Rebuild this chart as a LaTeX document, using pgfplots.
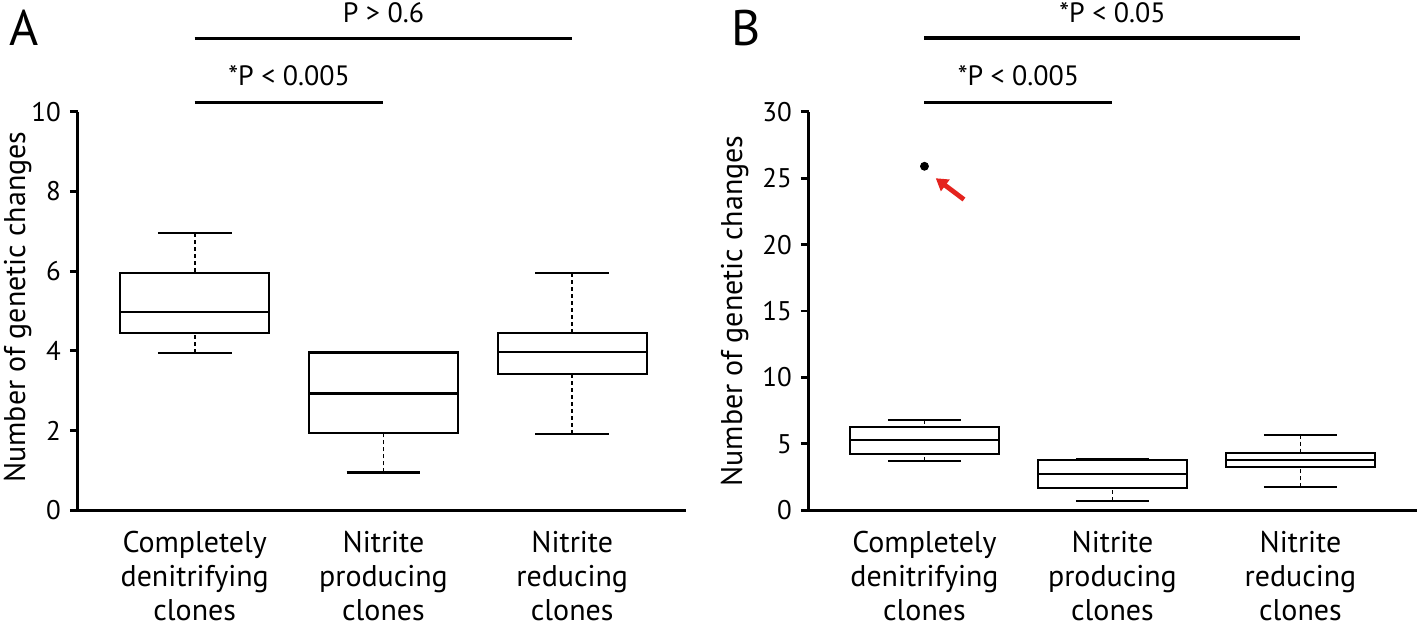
\documentclass[border=0pt]{standalone}
\usepackage{pgfplots}
\pgfplotsset{compat=1.18}
\usepgfplotslibrary{statistics}
\usetikzlibrary{arrows.meta}
\usepackage{fontspec}
\setmainfont{PT Sans}
\definecolor{arrowred}{RGB}{228,35,30}

\pgfplotsset{
  mybox/.style={
    black, line width=1.1pt, solid, fill=none,
    boxplot/draw direction=y,
    boxplot/box extend=0.79,
    boxplot/whisker extend=0.39,
    boxplot/draw/lower whisker/.code={%
      \draw[line width=0.8pt, dash pattern=on 2pt off 1.5pt]
        (boxplot cs:\pgfplotsboxplotvalue{lower whisker}) -- (boxplot cs:\pgfplotsboxplotvalue{lower quartile});
      \draw[line width=1.1pt]
        (boxplot whisker cs:\pgfplotsboxplotvalue{lower whisker},0) -- (boxplot whisker cs:\pgfplotsboxplotvalue{lower whisker},1);
    },
    boxplot/draw/upper whisker/.code={%
      \draw[line width=0.8pt, dash pattern=on 2pt off 1.5pt]
        (boxplot cs:\pgfplotsboxplotvalue{upper whisker}) -- (boxplot cs:\pgfplotsboxplotvalue{upper quartile});
      \draw[line width=1.1pt]
        (boxplot whisker cs:\pgfplotsboxplotvalue{upper whisker},0) -- (boxplot whisker cs:\pgfplotsboxplotvalue{upper whisker},1);
    },
  },
  panel/.style={
    scale only axis, width=304.5pt, height=199.5pt,
    anchor=south west,
    axis x line=bottom, axis y line=left,
    axis line style={line width=1.6pt, -},
    clip=false,
    xtick={0,1,2},
    xticklabels={{Completely\\denitrifying\\clones},{Nitrite\\producing\\clones},{Nitrite\\reducing\\clones}},
    xticklabel style={align=center, font=\fontsize{15}{17}\selectfont, inner sep=0pt, yshift=-6.5pt},
    x tick style={draw=none},
    tick align=outside,
    major tick length=4pt,
    y tick style={line width=1.4pt, black},
    /pgf/number format/assume math mode=true,
    yticklabel style={font=\fontsize{13.5}{16}\selectfont, xshift=-1pt},
    ylabel={Number of genetic changes},
    ylabel style={font=\fontsize{15}{18}\selectfont, anchor=center},
  },
}

\begin{document}
\begin{tikzpicture}
\useasboundingbox (-1pt,-2pt) rectangle (709pt,313pt);

% Panel A
\begin{axis}[panel, at={(38pt,57.5pt)},
  xmin=-0.619, xmax=2.603, ymin=0, ymax=10,
  ytick={0,2,4,6,8,10},
  ylabel style={at={(axis description cs:-0.099,0.51)}},
]
\addplot[mybox, boxplot prepared={draw position=0, median=4.97, upper quartile=5.95, lower quartile=4.45, upper whisker=6.95, lower whisker=3.95}] coordinates {};
\addplot[mybox, boxplot prepared={draw position=1, median=2.93, upper quartile=3.96, lower quartile=1.93, upper whisker=3.98, lower whisker=0.95}] coordinates {};
\addplot[mybox, boxplot prepared={draw position=2, median=3.97, upper quartile=4.45, lower quartile=3.43, upper whisker=5.95, lower whisker=1.92}] coordinates {};
\draw[line width=1.6pt] (axis cs:0,10.23) -- (axis cs:1,10.23);
\draw[line width=1.6pt] (axis cs:0,11.85) -- (axis cs:2,11.85);
\node[font=\fontsize{14}{16}\selectfont] at (axis cs:0.5,10.9) {*P < 0.005};
\node[font=\fontsize{14}{16}\selectfont] at (axis cs:1.0,12.5) {P > 0.6};
\end{axis}

% Panel B
\begin{axis}[panel, at={(404pt,57.5pt)},
  xmin=-0.615, xmax=2.62, ymin=0, ymax=30,
  ytick={0,5,10,15,20,25,30},
  ylabel style={at={(axis description cs:-0.122,0.5)}},
]
\addplot[mybox, boxplot prepared={draw position=0, median=5.29, upper quartile=6.29, lower quartile=4.26, upper whisker=6.77, lower whisker=3.74}] coordinates {};
\addplot[mybox, boxplot prepared={draw position=1, median=2.73, upper quartile=3.78, lower quartile=1.68, upper whisker=3.83, lower whisker=0.70}] coordinates {};
\addplot[mybox, boxplot prepared={draw position=2, median=3.76, upper quartile=4.29, lower quartile=3.26, upper whisker=5.69, lower whisker=1.73}] coordinates {};
\addplot[only marks, mark=*, mark size=2pt, black] coordinates {(0,25.9)};
\draw[arrowred, line width=2.4pt, -{Triangle[length=6pt,width=7pt]}] (axis cs:0.21,23.4) -- (axis cs:0.06,25.0);
\draw[line width=1.6pt] (axis cs:0,30.68) -- (axis cs:1,30.68);
\draw[line width=1.6pt] (axis cs:0,35.56) -- (axis cs:2,35.56);
\node[font=\fontsize{14}{16}\selectfont] at (axis cs:0.5,32.7) {*P < 0.005};
\node[font=\fontsize{14}{16}\selectfont] at (axis cs:1.0,37.5) {*P < 0.05};
\end{axis}

\node[font=\fontsize{25}{28}\selectfont] at (11pt,299pt) {A};
\node[font=\fontsize{25}{28}\selectfont] at (372.5pt,299pt) {B};
\end{tikzpicture}
\end{document}
